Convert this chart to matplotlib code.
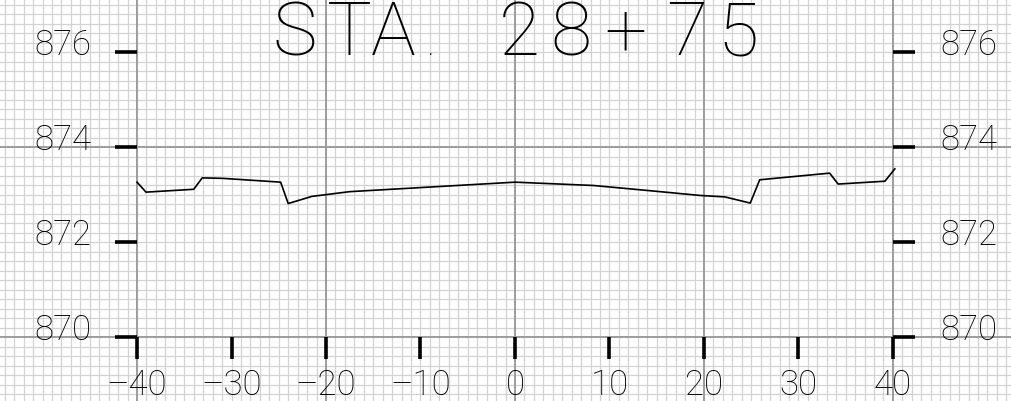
import matplotlib
matplotlib.use("Agg")
import matplotlib.pyplot as plt
import numpy as np

# ground profile, offset (ft) vs elevation (ft)
offset = [-40.0, -39.05, -34.0, -33.1, -30.9, -24.8, -24.0, -21.5, -17.5,
          0.0, 8.3, 14.3, 19.6, 22.2, 24.9, 25.9, 33.3, 34.2, 39.15, 40.2]
elev = [873.26, 873.05, 873.11, 873.35, 873.34, 873.26, 872.81, 872.96, 873.06,
        873.26, 873.19, 873.08, 872.98, 872.95, 872.82, 873.31, 873.45, 873.22, 873.28, 873.54]

elev_ticks = [870, 872, 874, 876]
offset_ticks = [-40, -30, -20, -10, 0, 10, 20, 30, 40]
title_chars = ["S", "T", "A", ".", "2", "8", "+", "7", "5"]
title_x = [295, 349, 393.5, 431, 519.5, 571, 625.5, 686.5, 737.5]  # px centres

FONT = dict(family="Roboto", fontweight=100)

fig = plt.figure(figsize=(10.12, 4.02), dpi=100)
ax = fig.add_axes([0, 0, 1, 1])
ax.set_xlim(-54.5, 52.6)
ax.set_ylim(868.653, 877.116)
ax.axis("off")

# graph paper
for x in np.arange(-54, 53, 1):
    major = x % 20 == 0
    ax.axvline(x, color="#9c9c9c" if major else "#d2d2d2", lw=1.4 if major else 0.9, zorder=1 if major else 0)
for y in np.arange(868.8, 877.2, 0.2):
    y = round(y, 1)
    major = abs((y - 870) % 4) < 1e-6
    ax.axhline(y, color="#9c9c9c" if major else "#d2d2d2", lw=1.4 if major else 0.9, zorder=1 if major else 0)

# profile line
ax.plot(offset, elev, color="black", lw=1.2, zorder=5)

# elevation ticks both sides
for e in elev_ticks:
    ax.plot([-42.3, -40], [e, e], color="black", lw=2.6, solid_capstyle="butt", zorder=4)
    ax.plot([40, 42.3], [e, e], color="black", lw=2.6, solid_capstyle="butt", zorder=4)
    ax.text(-47.8, e - 0.04, str(e), ha="center", va="baseline", fontsize=25, zorder=6, **FONT)
    ax.text(48.0, e - 0.04, str(e), ha="center", va="baseline", fontsize=25, zorder=6, **FONT)

# offset ticks along the bottom
for o in offset_ticks:
    ax.plot([o, o], [870, 869.537], color="black", lw=2.6, solid_capstyle="butt", zorder=4)
    lab = str(o) if o >= 0 else "\u2013" + str(-o)
    ax.text(o, 868.8, lab, ha="center", va="baseline", fontsize=25, zorder=6, **FONT)

# station title
for ch, px in zip(title_chars, title_x):
    fs = 54 if ch != "." else 20
    fig.text(px / 1012, 1 - 55 / 402, ch, ha="center", va="baseline", fontsize=fs,
             zorder=6, **FONT)

fig.savefig("out.png", dpi=100)
